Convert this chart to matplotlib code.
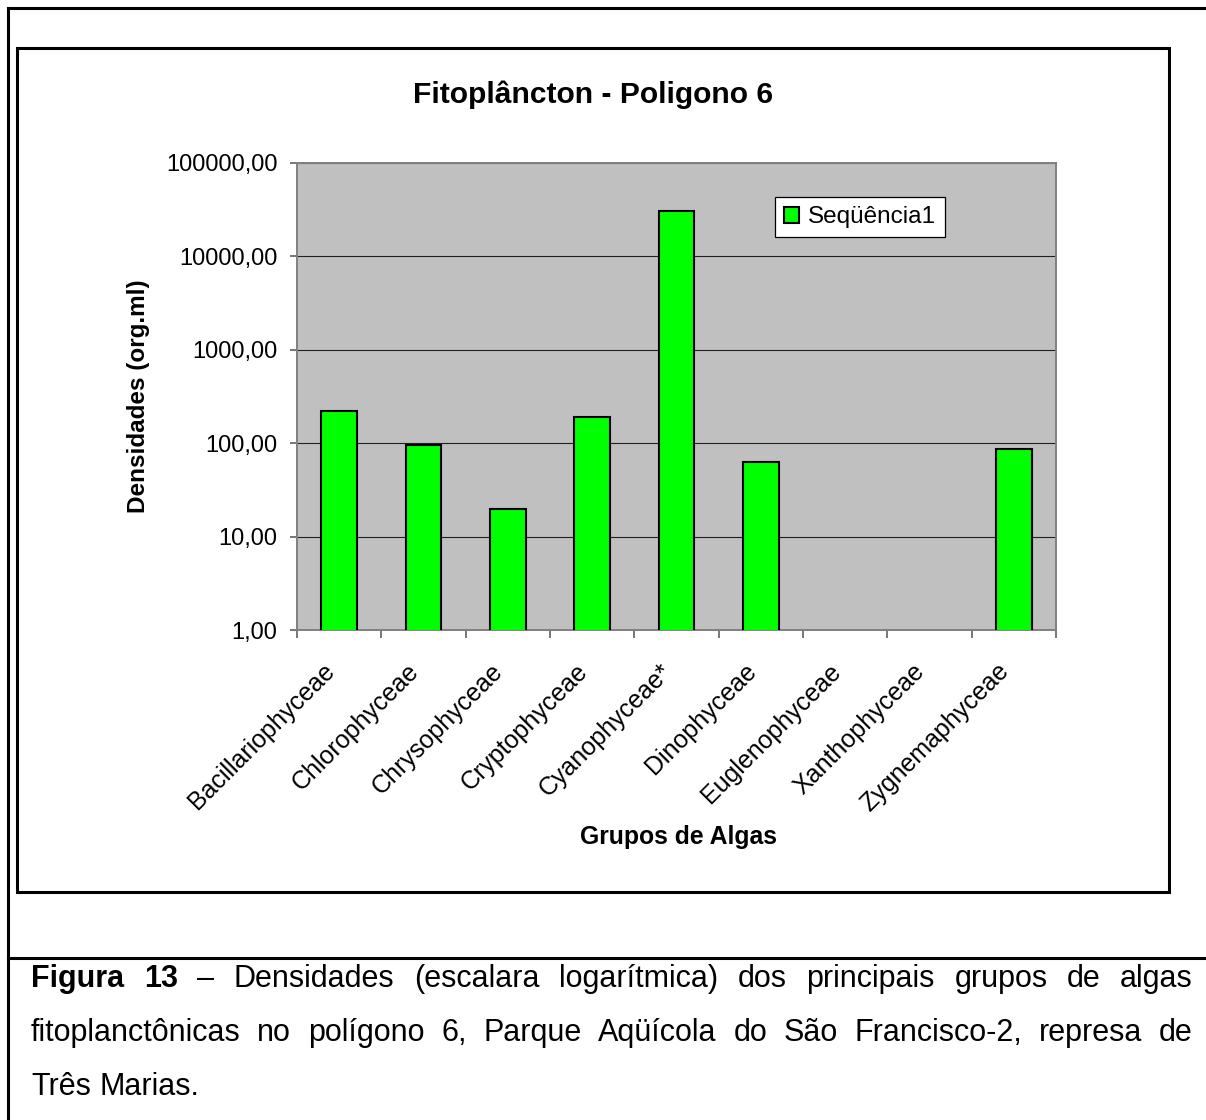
import numpy as np
import matplotlib
matplotlib.use("Agg")
import matplotlib.pyplot as plt
from matplotlib.lines import Line2D
from matplotlib.patches import Rectangle
from matplotlib.transforms import ScaledTranslation, blended_transform_factory

plt.rcParams['font.family'] = ['Liberation Sans', 'DejaVu Sans']

# data (org/ml, log scale)
grupos = ["Bacillariophyceae", "Chlorophyceae", "Chrysophyceae", "Cryptophyceae",
          "Cyanophyceae*", "Dinophyceae", "Euglenophyceae", "Xanthophyceae",
          "Zygnemaphyceae"]
densidades = [221, 96, 19.7, 192, 30600, 63, np.nan, np.nan, 87]
yticks = [1, 10, 100, 1000, 10000, 100000]
ytick_labels = ["1,00", "10,00", "100,00", "1000,00", "10000,00", "100000,00"]

titulo = "Fitoplâncton - Poligono 6"
serie = "Seqüência1"

W, H = 1206, 1120


def fx(x):
    return x / W


def fy(y):
    return 1 - y / H


fig = plt.figure(figsize=(W / 100, H / 100), dpi=100, facecolor='white')

# frame lines of the page
lw_frame = 2.2
fig.add_artist(Line2D([fx(8), fx(1206)], [fy(8), fy(8)], color='black', lw=lw_frame))
fig.add_artist(Line2D([fx(8), fx(8)], [fy(8), fy(1120)], color='black', lw=lw_frame))
fig.add_artist(Line2D([fx(8), fx(1206)], [fy(958), fy(958)], color='black', lw=lw_frame))
fig.add_artist(Rectangle((fx(17), fy(892)), fx(1169) - fx(17), fy(48) - fy(892),
                         fill=False, edgecolor='black', lw=lw_frame,
                         transform=fig.transFigure))

# plot area
ax = fig.add_axes([fx(297), fy(630), fx(1056) - fx(297), fy(163) - fy(630)])
ax.set_facecolor('#C0C0C0')
ax.set_yscale('log')

x = np.arange(len(grupos))
vals = np.array(densidades, dtype=float)
ok = ~np.isnan(vals)
ax.bar(x[ok], vals[ok], width=0.42, color='#00FF00', edgecolor='black',
       linewidth=1.5, label=serie, zorder=3)

ax.set_ylim(1, 100000)
ax.set_xlim(-0.5, len(grupos) - 0.5)
ax.yaxis.set_minor_locator(matplotlib.ticker.NullLocator())
ax.set_yticks(yticks)
ax.set_yticklabels(ytick_labels, fontsize=17)
ax.yaxis.grid(True, color='#202020', linewidth=0.8)
ax.set_axisbelow(True)
ax.tick_params(axis='y', length=5, pad=9)

# x ticks at category boundaries, labels placed by hand under each bar
ax.set_xticks(np.arange(-0.5, len(grupos), 1.0))
ax.set_xticklabels([])
ax.tick_params(axis='x', length=6)
ax.tick_params(axis='both', which='major', width=1.2, color='#606060')
lbl_tr = blended_transform_factory(ax.transData, ax.transAxes) + \
    ScaledTranslation(-6 / 72, -27 / 72, fig.dpi_scale_trans)
for i, g in enumerate(grupos):
    ax.text(i, 0, g, transform=lbl_tr, fontsize=18, rotation=45, ha='right',
            va='center', rotation_mode='anchor')

for s in ax.spines.values():
    s.set_color('#808080')
    s.set_linewidth(1.4)

# titles
fig.text(fx(593), fy(95), titulo, fontsize=21.6, fontweight='bold', ha='center', va='center')
fig.text(fx(139), fy(396), "Densidades (org.ml)", fontsize=17.5, fontweight='bold',
         rotation=90, ha='center', va='center')
fig.text(fx(678), fy(837), "Grupos de Algas", fontsize=17.8, fontweight='bold',
         ha='center', va='center')

ax.legend(loc='upper left', bbox_to_anchor=(fx(775), fy(197)), bbox_transform=fig.transFigure,
          borderaxespad=0, fancybox=False, edgecolor='black', framealpha=1,
          fontsize=17.5, handlelength=0.62, handleheight=0.62, handletextpad=0.35,
          borderpad=0.38).get_frame().set_linewidth(0.9)

# caption, justified
linhas = [
    [("Figura", True), ("13", True), ("–", False), ("Densidades", False), ("(escalara", False),
     ("logarítmica)", False), ("dos", False), ("principais", False), ("grupos", False),
     ("de", False), ("algas", False)],
    [("fitoplanctônicas", False), ("no", False), ("polígono", False), ("6,", False),
     ("Parque", False), ("Aqüícola", False), ("do", False), ("São", False),
     ("Francisco-2,", False), ("represa", False), ("de", False)],
    [("Três", False), ("Marias.", False)],
]
fs_leg = 22
baselines = [987, 1041, 1095]
left, right = 31, 1193
renderer = fig.canvas.get_renderer()
for i, linha in enumerate(linhas):
    textos = []
    for w, b in linha:
        t = fig.text(0, fy(baselines[i]), w, fontsize=fs_leg, va='baseline', ha='left',
                     fontweight='bold' if b else 'normal')
        textos.append(t)
    larg = [t.get_window_extent(renderer).width for t in textos]
    if i < len(linhas) - 1:
        gap = (right - left - sum(larg)) / (len(textos) - 1)
    else:
        gap = 0.278 * fs_leg * 100 / 72
    pos = left
    for t, w in zip(textos, larg):
        t.set_x(fx(pos))
        pos += w + gap

fig.savefig("out.png", dpi=100, facecolor='white')
